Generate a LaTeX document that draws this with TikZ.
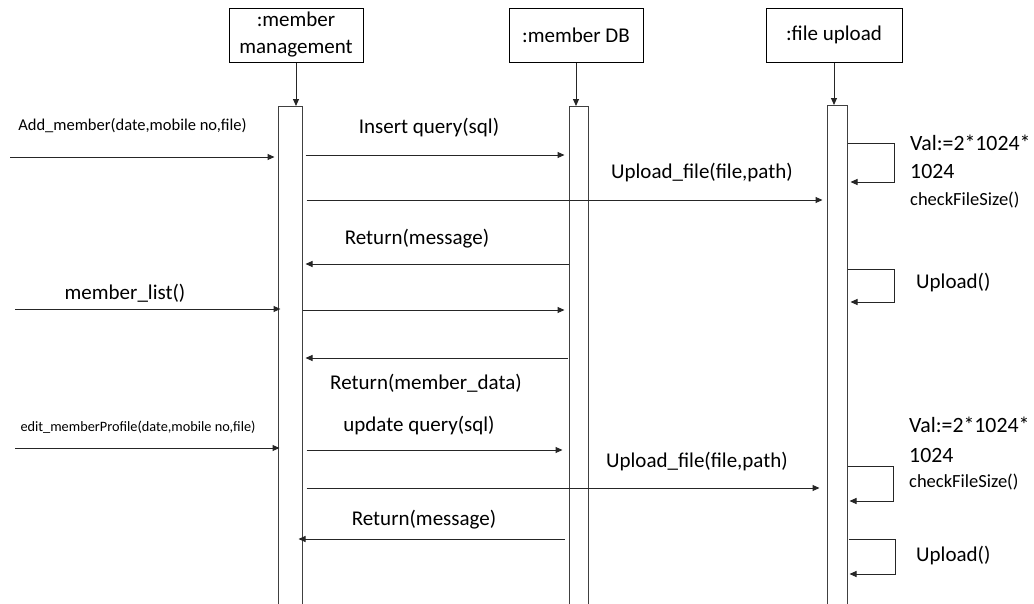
\documentclass[tikz,border=0pt]{standalone}
\usepackage{fontspec}
\setmainfont{Carlito}
\usetikzlibrary{arrows.meta}

\tikzset{
  lbl/.style={inner sep=0pt, font=\fontsize{21}{27}\selectfont},
  vallbl/.style={inner sep=0pt, font=\fontsize{21.8}{27}\selectfont},
  small/.style={inner sep=0pt, font=\fontsize{16.5}{19}\selectfont},
  tiny/.style={inner sep=0pt, font=\fontsize{14.3}{17}\selectfont},
  note/.style={inner sep=0pt, font=\fontsize{18.5}{21}\selectfont},
  actor/.style={draw=black, line width=1pt, inner sep=0pt, align=center,
    font=\fontsize{21}{27}\selectfont},
  bar/.style={draw=black!75, line width=1pt, fill=white, inner sep=0pt,
    anchor=north, minimum height=520pt},
  msg/.style={draw=black!85, line width=1pt,
    -{Triangle[length=7pt,width=6pt]}},
}

\begin{document}
\begin{tikzpicture}[x=1pt, y=-1pt]
  \useasboundingbox (0,0) rectangle (1034,603);
  \clip (0,0) rectangle (1034,603);
  \fill[white] (0,0) rectangle (1034,603);

  % lifeline heads
  \node[actor, minimum width=134pt, minimum height=54pt] (mm) at (296,35)
    {:member\\management};
  \node[actor, minimum width=134pt, minimum height=54pt] (db) at (576,35)
    {:member DB};
  \node[actor, minimum width=136pt, minimum height=54pt] (fu) at (834,35)
    {:file upload};

  % activation bars (run past the bottom edge)
  \node[bar, minimum width=24pt] (mmbar) at (290,106) {};
  \node[bar, minimum width=19pt] (dbbar) at (578.5,106) {};
  \node[bar, minimum width=20pt] (fubar) at (837,105) {};

  \draw[msg] (mm.south) -- (mm.south |- mmbar.north);
  \draw[msg] (db.south) -- (db.south |- dbbar.north);
  \draw[msg] (fu.south) -- (fu.south |- fubar.north);

  % free ends of the incoming calls
  \coordinate (in1) at (10,157);
  \coordinate (in2) at (15,309);
  \coordinate (in3) at (15,448);

  % add member
  \node[small] (tadd) at (132.5,126) {Add\_member(date,mobile no,file)};
  \draw[msg] (in1) -- ([xshift=-3pt]mmbar.west |- in1);

  \node[lbl] (tins) at (429,128) {Insert query(sql)};
  \draw[msg] ([xshift=3pt]mmbar.east |- 0,155) -- ([xshift=-4pt]dbbar.west |- 0,155);

  \node[lbl] (tup1) at (702,173) {Upload\_file(file,path)};
  \draw[msg] ([xshift=4pt]mmbar.east |- 0,200) -- ([xshift=-4pt]fubar.west |- 0,200);

  \node[vallbl, anchor=west] (tval1) at (910,143) {Val:=2*1024*};
  \node[vallbl, anchor=west] (tk1) at (910,171) {1024};
  \node[note, anchor=west] (tchk1) at (910,200) {checkFileSize()};
  \draw[msg] (fubar.east |- 0,143) -| (894,182) -- ([xshift=3pt]fubar.east |- 0,182);

  \node[lbl] (tret1) at (417,239) {Return(message)};
  \draw[msg] (dbbar.west |- 0,264) -- ([xshift=3pt]mmbar.east |- 0,264);

  \node[lbl, anchor=west] (tupl1) at (916,283) {Upload()};
  \draw[msg] (fubar.east |- 0,269) -| (894,302) -- ([xshift=3pt]fubar.east |- 0,302);

  % member list
  \node[lbl] (tlist) at (125,293) {member\_list()};
  \draw[msg] (in2) -- ([xshift=3pt]mmbar.west |- in2);
  \draw[msg] (mmbar.east |- 0,310) -- ([xshift=-4pt]dbbar.west |- 0,310);

  \draw[msg] ([xshift=-1pt]dbbar.west |- 0,358) -- ([xshift=3pt]mmbar.east |- 0,358);
  \node[lbl] (tdata) at (426,383) {Return(member\_data)};

  % edit member profile
  \node[tiny] (tedit) at (138,427) {edit\_memberProfile(date,mobile no,file)};
  \draw[msg] (in3) -- ([xshift=2pt]mmbar.west |- in3);

  \node[lbl] (tupd) at (419,426) {update query(sql)};
  \draw[msg] ([xshift=4pt]mmbar.east |- 0,450) -- ([xshift=-6pt]dbbar.west |- 0,450);

  \node[lbl] (tup2) at (697,462) {Upload\_file(file,path)};
  \draw[msg] ([xshift=4pt]mmbar.east |- 0,488) -- ([xshift=-7pt]fubar.west |- 0,488);

  \node[vallbl, anchor=west] (tval2) at (909,425) {Val:=2*1024*};
  \node[vallbl, anchor=west] (tk2) at (909,455) {1024};
  \node[note, anchor=west] (tchk2) at (909,482) {checkFileSize()};
  \draw[msg] (fubar.east |- 0,466) -| (893,501) -- ([xshift=2pt]fubar.east |- 0,501);

  \node[lbl] (tret2) at (424,520) {Return(message)};
  \draw[msg] ([xshift=-4pt]dbbar.west |- 0,539) -- ([xshift=-4pt]mmbar.east |- 0,539);

  \node[lbl, anchor=west] (tupl2) at (916,556) {Upload()};
  \draw[msg] ([xshift=1pt]fubar.east |- 0,539) -| (895,574) -- ([xshift=2pt]fubar.east |- 0,574);
\end{tikzpicture}
\end{document}
